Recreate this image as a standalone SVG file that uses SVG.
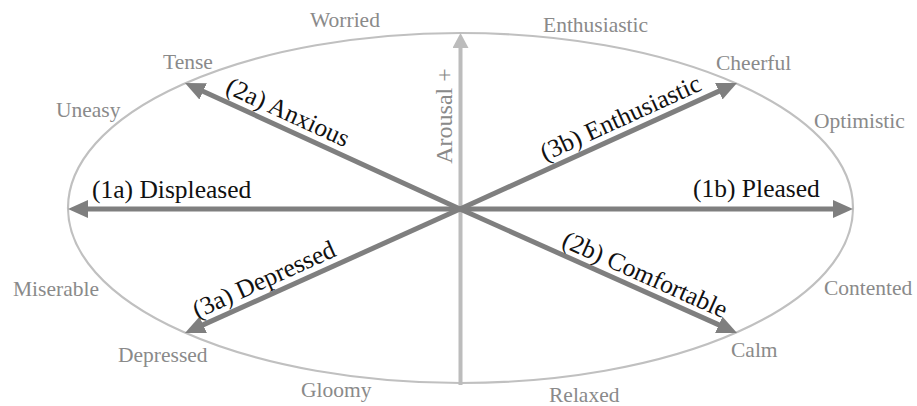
<svg xmlns="http://www.w3.org/2000/svg" width="917" height="406" viewBox="0 0 917 406">
<style>
.lab{font-family:"Liberation Serif","Times New Roman",serif;font-size:21.5px;fill:#8a8a8a}
.main{font-family:"Liberation Serif","Times New Roman",serif;font-size:25.5px;fill:#111}
.arr{stroke:#7f7f7f;stroke-width:5;fill:none;marker-end:url(#ah)}
</style>
<defs>
<marker id="ah" markerUnits="userSpaceOnUse" markerWidth="20" markerHeight="18" viewBox="0 0 20 18" refX="10" refY="9" orient="auto"><path d="M0,0 L20,9 L0,18 z" fill="#7f7f7f"/></marker>
<marker id="ahl" markerUnits="userSpaceOnUse" markerWidth="15" markerHeight="16" viewBox="0 0 15 16" refX="7.5" refY="8" orient="auto"><path d="M0,0 L15,8 L0,16 z" fill="#bcbcbc"/></marker>
</defs>
<rect width="917" height="406" fill="#fff"/>
<g id="ellipse"><ellipse cx="460.5" cy="208" rx="392.5" ry="175" fill="none" stroke="#c0c0c0" stroke-width="2.2"/></g>
<g id="connectors">
<line x1="460.5" y1="385" x2="460.5" y2="40.5" stroke="#bcbcbc" stroke-width="4" marker-end="url(#ahl)"/>
<line class="arr" x1="460" y1="209" x2="78" y2="209"/>
<line class="arr" x1="460" y1="209" x2="843" y2="209"/>
<line class="arr" x1="460" y1="209" x2="194.1" y2="87.2"/>
<line class="arr" x1="460" y1="209" x2="727.9" y2="87.1"/>
<line class="arr" x1="460" y1="209" x2="194.1" y2="328.9"/>
<line class="arr" x1="460" y1="209" x2="727.9" y2="328.9"/>
</g>
<g id="axis-label"><text class="lab" text-anchor="middle" transform="translate(452,116) rotate(-90)" style="font-size:24px">Arousal +</text></g>
<g id="arrow-labels">
<text class="main" x="92" y="198">(1a) Displeased</text>
<text class="main" x="693" y="197">(1b) Pleased</text>
<text class="main" text-anchor="middle" transform="translate(284.5,119.9) rotate(24.6)">(2a) Anxious</text>
<text class="main" text-anchor="middle" transform="translate(624,125.6) rotate(-24.5)">(3b) Enthusiastic</text>
<text class="main" text-anchor="middle" transform="translate(267.3,287.1) rotate(-24.3)">(3a) Depressed</text>
<text class="main" text-anchor="middle" transform="translate(641.7,282.2) rotate(24.1)">(2b) Comfortable</text>
</g>
<g id="emotion-labels">
<text class="lab" x="310" y="27">Worried</text>
<text class="lab" x="543" y="32">Enthusiastic</text>
<text class="lab" x="163" y="69">Tense</text>
<text class="lab" x="56" y="117">Uneasy</text>
<text class="lab" x="716" y="70">Cheerful</text>
<text class="lab" x="814" y="128">Optimistic</text>
<text class="lab" x="13" y="296">Miserable</text>
<text class="lab" x="118" y="362">Depressed</text>
<text class="lab" x="301" y="397">Gloomy</text>
<text class="lab" x="824" y="295">Contented</text>
<text class="lab" x="731" y="357">Calm</text>
<text class="lab" x="549" y="402">Relaxed</text>
</g>
</svg>
